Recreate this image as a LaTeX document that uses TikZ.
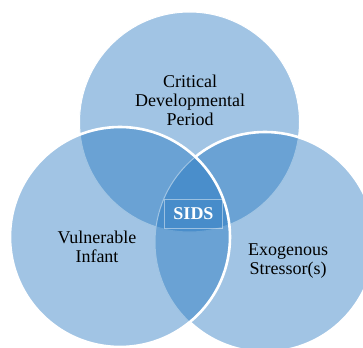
\documentclass[tikz,border=0pt]{standalone}
\usepackage{fontspec}
\setmainfont{Liberation Serif}
\definecolor{venn}{RGB}{30,115,190}
\tikzset{
  vcircle/.style={fill=venn, fill opacity=0.42, draw=white, line width=1pt},
  vedge/.style={draw=white, line width=2.6pt},
  vlabel/.style={align=center, font=\fontsize{18}{19.3}\selectfont, text=black, inner sep=0pt},
  sidsbox/.style={draw=white, draw opacity=0.45, line width=0.8pt, fill=venn, fill opacity=0.08,
    minimum width=58pt, minimum height=29pt, inner sep=0pt, text opacity=1,
    text=white, font=\fontsize{18}{19.3}\selectfont\bfseries}
}
\begin{document}
\begin{tikzpicture}[x=1pt,y=-1pt]
\useasboundingbox (0,0) rectangle (363,347);
\clip (0,0) rectangle (363,347);
% circles: top, right, left (drawing order)
\path[vcircle] (189.5,122) circle[radius=110];
\path[vcircle] (265,242) circle[radius=110];
\path[vcircle] (120,237) circle[radius=110];
% strong white edges
\begin{scope}[even odd rule]
  \clip (-20,-20) rectangle (400,400) (120,237) circle[radius=110];
  \path[vedge] (265,242) circle[radius=110];
\end{scope}
\path[vedge] (120,237) circle[radius=110];
% labels
\node[vlabel] (critical) at (190,100.5) {Critical\\Developmental\\Period};
\node[vlabel] (infant) at (97,247) {Vulnerable\\Infant};
\node[vlabel] (stressor) at (288,261) {Exogenous\\Stressor(s)};
\node[sidsbox] (sids) at (193.5,213.5) {SIDS};
\end{tikzpicture}
\end{document}
